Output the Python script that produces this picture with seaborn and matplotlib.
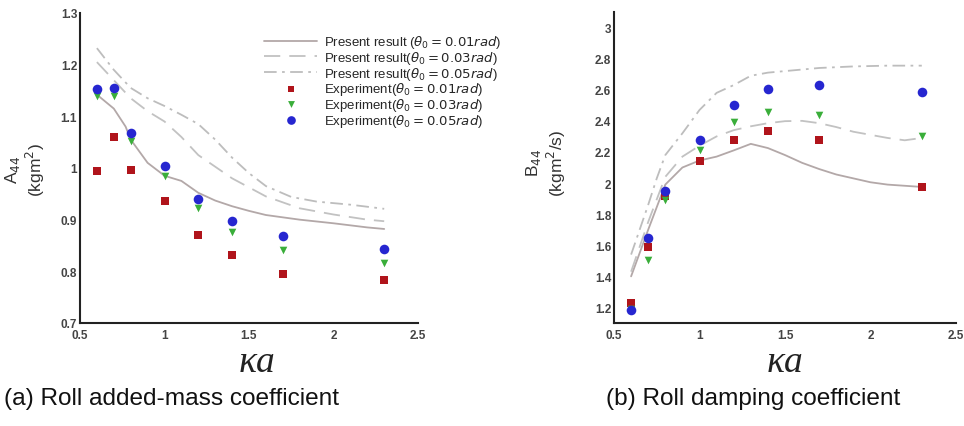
import matplotlib
matplotlib.use("Agg")
import matplotlib.pyplot as plt
import seaborn as sns
import pandas as pd
from matplotlib.ticker import MultipleLocator, FuncFormatter

# ---------------- data ----------------
ka_exp = [0.6, 0.7, 0.8, 1.0, 1.2, 1.4, 1.7, 2.3]

# (a) added mass A44 - experiments
A_exp_001 = [0.995, 1.060, 0.996, 0.936, 0.871, 0.831, 0.795, 0.784]
A_exp_003 = [1.139, 1.139, 1.052, 0.985, 0.922, 0.876, 0.842, 0.816]
A_exp_005 = [1.153, 1.154, 1.068, 1.003, 0.940, 0.897, 0.869, 0.843]

# (a) present results
ka_A001 = [0.6, 0.7, 0.77, 0.8, 0.9, 1.0, 1.1, 1.2, 1.3, 1.4, 1.5, 1.6, 1.8, 2.0, 2.2, 2.3]
A_res_001 = [1.142, 1.115, 1.080, 1.055, 1.010, 0.985, 0.975, 0.952, 0.937, 0.926,
             0.917, 0.909, 0.900, 0.893, 0.885, 0.882]
ka_A003 = [0.6, 0.7, 0.8, 0.9, 1.0, 1.1, 1.2, 1.4, 1.6, 1.8, 2.0, 2.2, 2.3]
A_res_003 = [1.205, 1.170, 1.135, 1.110, 1.090, 1.060, 1.025, 0.980, 0.945, 0.922,
             0.910, 0.900, 0.897]
ka_A005 = [0.6, 0.7, 0.8, 0.9, 1.0, 1.1, 1.2, 1.3, 1.4, 1.5, 1.6, 1.75, 1.9, 2.1, 2.3]
A_res_005 = [1.232, 1.190, 1.155, 1.135, 1.120, 1.103, 1.085, 1.055, 1.020, 0.990,
             0.965, 0.944, 0.935, 0.929, 0.921]

# (b) damping B44 - experiments
B_exp_001 = [1.227, 1.587, 1.917, 2.139, 2.277, 2.337, 2.279, 1.973]
B_exp_003 = [1.190, 1.506, 1.893, 2.214, 2.390, 2.458, 2.437, 2.305]
B_exp_005 = [1.184, 1.649, 1.947, 2.277, 2.503, 2.608, 2.629, 2.586]

# (b) present results
ka_B001 = [0.6, 0.7, 0.8, 0.9, 1.0, 1.1, 1.2, 1.3, 1.4, 1.5, 1.6, 1.7, 1.8, 1.9, 2.0, 2.1, 2.3]
B_res_001 = [1.40, 1.70, 1.99, 2.10, 2.145, 2.17, 2.21, 2.252, 2.225, 2.18, 2.13,
             2.09, 2.055, 2.03, 2.005, 1.99, 1.975]
ka_B003 = [0.6, 0.7, 0.8, 0.9, 1.0, 1.1, 1.2, 1.3, 1.4, 1.5, 1.6, 1.7, 1.8, 1.9, 2.0, 2.1, 2.2, 2.3]
B_res_003 = [1.43, 1.75, 2.04, 2.17, 2.24, 2.30, 2.34, 2.365, 2.385, 2.398, 2.40,
             2.385, 2.36, 2.33, 2.31, 2.29, 2.275, 2.29]
ka_B005 = [0.6, 0.7, 0.75, 0.8, 0.9, 1.0, 1.1, 1.2, 1.3, 1.4, 1.5, 1.7, 1.9, 2.1, 2.3]
B_res_005 = [1.54, 1.86, 2.03, 2.18, 2.32, 2.47, 2.58, 2.63, 2.69, 2.71, 2.72,
             2.74, 2.75, 2.755, 2.755]

res_labels = [r"Present result ($\theta_0 = 0.01rad$)",
              r"Present result($\theta_0 = 0.03rad$)",
              r"Present result($\theta_0 = 0.05rad$)"]
exp_labels = [r"Experiment($\theta_0 = 0.01rad$)",
              r"Experiment($\theta_0 = 0.03rad$)",
              r"Experiment($\theta_0 = 0.05rad$)"]

# ---------------- style ----------------
sns.set_style("white")
plt.rcParams["font.family"] = ["Liberation Sans", "DejaVu Sans"]
plt.rcParams["mathtext.fontset"] = "dejavusans"

line_colors = ["#b3a8a8", "#c2c2c2", "#bdbdbd"]
line_styles = ["-", (0, (9, 5)), (0, (7, 3, 1.5, 3))]
mk_colors = ["#b0141b", "#3aae3a", "#2626d0"]
mk_shapes = ["s", "v", "o"]
mk_sizes = [26, 30, 48]

fig = plt.figure(figsize=(9.64, 4.27), dpi=100)
axA = fig.add_axes([80 / 964, 1 - 324 / 427, 338 / 964, 310 / 427])
axB = fig.add_axes([614 / 964, 1 - 324 / 427, 342 / 964, 311 / 427])

def draw(ax, lines, exps):
    for i, (xs, ys) in enumerate(lines):
        df = pd.DataFrame({"ka": xs, "v": ys})
        sns.lineplot(data=df, x="ka", y="v", ax=ax, color=line_colors[i],
                     linestyle=line_styles[i], linewidth=1.3, sort=False,
                     estimator=None, label=res_labels[i])
    for i, ys in enumerate(exps):
        df = pd.DataFrame({"ka": ka_exp, "v": ys})
        sns.scatterplot(data=df, x="ka", y="v", ax=ax, color=mk_colors[i],
                        marker=mk_shapes[i], s=mk_sizes[i], linewidth=0,
                        label=exp_labels[i], zorder=3)

draw(axA, [(ka_A001, A_res_001), (ka_A003, A_res_003), (ka_A005, A_res_005)],
     [A_exp_001, A_exp_003, A_exp_005])
draw(axB, [(ka_B001, B_res_001), (ka_B003, B_res_003), (ka_B005, B_res_005)],
     [B_exp_001, B_exp_003, B_exp_005])

fmt = FuncFormatter(lambda v, p: f"{v:g}")
for ax, ylim, ymaj, ymin in [(axA, (0.7, 1.3), 0.1, 0.02), (axB, (1.1, 3.1), 0.2, 0.04)]:
    ax.set_xlim(0.5, 2.5)
    ax.set_ylim(*ylim)
    ax.xaxis.set_major_locator(MultipleLocator(0.5))
    ax.xaxis.set_minor_locator(MultipleLocator(0.1))
    ax.yaxis.set_major_locator(MultipleLocator(ymaj))
    ax.yaxis.set_minor_locator(MultipleLocator(ymin))
    ax.xaxis.set_major_formatter(fmt)
    ax.yaxis.set_major_formatter(fmt)
    ax.tick_params(which="major", direction="in", length=7, width=1.4,
                   labelsize=8.5, labelcolor="#444444", pad=2, color="#222222")
    ax.tick_params(axis="x", which="major", pad=4)
    ax.tick_params(which="minor", direction="in", length=3.5, width=0.9,
                   color="#333333")
    for s in ["top", "right"]:
        ax.spines[s].set_visible(False)
    for s in ["left", "bottom"]:
        ax.spines[s].set_linewidth(1.5)
        ax.spines[s].set_color("#222222")
    ax.set_xlabel("")
    ax.set_ylabel("")
    ax.set_facecolor("white")
    for lab in ax.get_xticklabels() + ax.get_yticklabels():
        lab.set_fontweight("bold")

axB.get_legend().remove()
h, l = axA.get_legend_handles_labels()
axA.legend(h, l, loc="upper left", bbox_to_anchor=(0.545, 0.935), frameon=False,
           fontsize=9.5, handlelength=4.0, handletextpad=0.55, labelspacing=-0.1,
           borderpad=0, borderaxespad=0, markerscale=0.9)

# axis labels
fig.text(25 / 964, 1 - 170 / 427, "A$_{44}$\n(kgm$^2$)", rotation=90,
         ha="center", va="center", fontsize=12.5, color="#333333",
         linespacing=1.05, multialignment="center")
fig.text(546 / 964, 1 - 163 / 427, "B$_{44}$\n(kgm$^2$/s)", rotation=90,
         ha="center", va="center", fontsize=12.5, color="#333333",
         linespacing=1.05, multialignment="center")
for xc in (257, 785):
    fig.text(xc / 964, 1 - 363 / 427, "κa", ha="center", va="center",
             fontsize=27, style="italic", family=["Liberation Serif", "DejaVu Serif"],
             color="#222222")

# captions
fig.text(172 / 964, 1 - 399 / 427, "(a) Roll added-mass coefficient",
         ha="center", va="center", fontsize=17.6, color="#111111")
fig.text(753 / 964, 1 - 399 / 427, "(b) Roll damping coefficient",
         ha="center", va="center", fontsize=17.6, color="#111111")

fig.savefig("out.png", dpi=100, facecolor="white")
